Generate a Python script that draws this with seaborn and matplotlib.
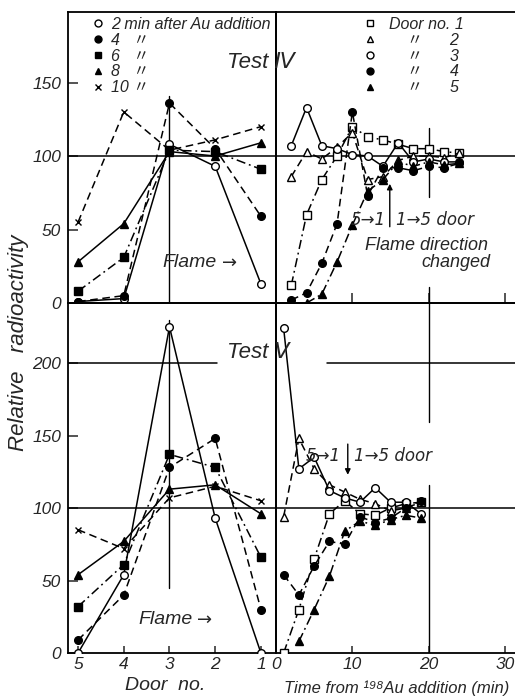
import numpy as np
import matplotlib
matplotlib.use("Agg")
import matplotlib.pyplot as plt
import seaborn as sns
from matplotlib.lines import Line2D

# ---------------- data ----------------
doors = [5, 4, 3, 2, 1]
door_ticks = [5, 4, 3, 2, 1]
time_ticks = [0, 10, 20, 30]
y_ticks_iv = [0, 50, 100, 150]
y_ticks_v = [0, 50, 100, 150, 200]

# Test IV, radioactivity along the doors at given minutes
iv_2min = [1, 3, 108, 93, 13]
iv_4min = [1, 5, 136, 105, 59]
iv_6min = [8, 31, 104, 103, 91]
iv_8min = [28, 54, 103, 100, 109]
iv_10min = [55, 130, 104, 111, 120]

# Test IV, radioactivity vs time at each door
times_iv = [2, 4, 6, 8, 10, 12, 14, 16, 18, 20, 22, 24]
iv_door1 = [12, 60, 84, 100, 120, 113, 111, 108, 105, 105, 103, 102]
iv_door2 = [86, 103, 98, 106, 116, 84, 86, 97, 100, 100, 99, 102]
iv_door3 = [107, 133, 107, 105, 101, 100, 93, 109, 96, 98, 96, 96]
iv_door4 = [2, 7, 27, 54, 130, 73, 92, 92, 90, 93, 92, 95]
iv_door5 = [np.nan, 0, 6, 28, 53, 76, 84, 96, 93, 96, 94, 95]

# Test V, along the doors
v_2min = [0, 54, 225, 93, 0]
v_4min = [9, 40, 128, 148, 30]
v_6min = [32, 61, 137, 128, 66]
v_8min = [54, 77, 113, 116, 96]
v_10min = [85, 72, 107, 115, 105]

# Test V, vs time
times_v = [1, 3, 5, 7, 9, 11, 13, 15, 17, 19]
v_door1 = [0, 30, 65, 96, 105, 96, 95, 100, 103, 104]
v_door2 = [94, 148, 127, 116, 111, 106, 103, 98, 100, 104]
v_door3 = [224, 127, 135, 112, 107, 104, 114, 104, 104, 96]
v_door4 = [54, 40, 60, 77, 75, 94, 90, 93, 100, 105]
v_door5 = [np.nan, 8, 30, 53, 84, 91, 88, 92, 95, 93]

legend_left = ["2 min after Au addition", "4   〃", "6   〃", "8   〃", "10 〃"]
legend_right = ["Door no. 1", "    〃      2", "    〃      3",
                "    〃      4", "    〃      5"]

# ---------------- style ----------------
sns.set_style("white")
FAM = ["Liberation Sans", "DejaVu Sans", "Noto Sans CJK JP"]
ARROW_FAM = ["DejaVu Sans", "Noto Sans CJK JP"]
plt.rcParams["font.family"] = FAM
plt.rcParams["font.style"] = "italic"

SOLID = "-"
DASH = (0, (5, 3))
DASHDOT = (0, (6, 2.5, 1.2, 2.5))

W, H = 515, 700
fig = plt.figure(figsize=(W / 100, H / 100), dpi=100)


def fx(x):
    return x / W


def fy(y):
    return 1 - y / H


ax_tl = fig.add_axes([fx(68), fy(303), (276 - 68) / W, (303 - 12) / H])
ax_tr = fig.add_axes([fx(276), fy(303), (515 - 276) / W, (303 - 12) / H])
ax_bl = fig.add_axes([fx(68), fy(653), (276 - 68) / W, (653 - 303) / H])
ax_br = fig.add_axes([fx(276), fy(653), (515 - 276) / W, (653 - 303) / H])

TOP_MAX = 198
BOT_MAX = 241.4
for ax in (ax_tl, ax_bl):
    ax.set_xlim(5.22, 0.67)
for ax in (ax_tr, ax_br):
    ax.set_xlim(0, 31.3)
for ax in (ax_tl, ax_tr):
    ax.set_ylim(0, TOP_MAX)
for ax in (ax_bl, ax_br):
    ax.set_ylim(0, BOT_MAX)

for ax in (ax_tl, ax_tr, ax_bl, ax_br):
    ax.set_facecolor("none")
    for s in ax.spines.values():
        s.set_color("black")
        s.set_linewidth(1.3)
    ax.axhline(100, color="black", lw=1.1, zorder=1)
for ax in (ax_tr, ax_br):
    ax.spines["right"].set_visible(False)

# reference lines
ax_tl.axvline(3, ymin=0, ymax=141 / TOP_MAX, color="black", lw=1.0, zorder=1)
ax_bl.axvline(3, ymin=45 / BOT_MAX, ymax=230 / BOT_MAX, color="black", lw=1.0, zorder=1)
ax_bl.axhline(200, xmin=0, xmax=(217 - 68) / 208, color="black", lw=1.1, zorder=1)
ax_br.axhline(200, xmin=(327 - 276) / 239, xmax=1, color="black", lw=1.1, zorder=1)
ax_tr.axvline(20, ymin=72 / TOP_MAX, ymax=119 / TOP_MAX, color="black", lw=1.0, zorder=1)
ax_tr.axvline(20, ymin=0, ymax=11 / TOP_MAX, color="black", lw=1.0, zorder=1)
ax_br.axvline(20, ymin=0, ymax=116 / BOT_MAX, color="black", lw=1.0, zorder=1)
ax_br.axvline(20, ymin=159 / BOT_MAX, ymax=1, color="black", lw=1.0, zorder=1)


def draw(ax, x, y, marker, filled, ls):
    sns.lineplot(x=x, y=y, ax=ax, color="black", marker=marker,
                 markersize=5.5 if marker != "x" else 5,
                 markerfacecolor="black" if filled else "white",
                 markeredgecolor="black", markeredgewidth=1.0,
                 linewidth=1.1, linestyle=ls, sort=False, estimator=None,
                 legend=False, zorder=3)


# styles by time (left panels)
time_styles = [("o", False, SOLID), ("o", True, DASH), ("s", True, DASHDOT),
               ("^", True, SOLID), ("x", True, DASH)]
# styles by door (right panels)
door_styles = [("s", False, DASHDOT), ("^", False, DASH), ("o", False, SOLID),
               ("o", True, DASH), ("^", True, DASHDOT)]

for vals, st in zip([iv_2min, iv_4min, iv_6min, iv_8min, iv_10min], time_styles):
    draw(ax_tl, doors, vals, *st)
for vals, st in zip([v_2min, v_4min, v_6min, v_8min, v_10min], time_styles):
    draw(ax_bl, doors, vals, *st)
for vals, st in zip([iv_door1, iv_door2, iv_door3, iv_door4, iv_door5], door_styles):
    draw(ax_tr, times_iv, vals, *st)
for vals, st in zip([v_door1, v_door2, v_door3, v_door4, v_door5], door_styles):
    draw(ax_br, times_v, vals, *st)

# ---------------- ticks ----------------
TFS = 12.5
ax_tl.set_yticks(y_ticks_iv)
ax_tl.set_yticklabels([str(v) for v in y_ticks_iv])
ax_bl.set_yticks(y_ticks_v)
ax_bl.set_yticklabels([str(v) for v in y_ticks_v])
ax_tl.set_xticks([])
ax_bl.set_xticks(door_ticks)
ax_bl.set_xticklabels([str(d) for d in door_ticks])
ax_tr.set_yticks([])
ax_br.set_yticks([])
ax_tr.set_xticks(time_ticks[1:])
ax_tr.set_xticklabels([])
ax_br.set_xticks(time_ticks)
ax_br.set_xticklabels([str(t) for t in time_ticks])
for ax in (ax_tl, ax_tr, ax_bl, ax_br):
    ax.tick_params(direction="in", length=7, width=1.1, labelsize=TFS, pad=5,
                   left=ax in (ax_tl, ax_bl), bottom=True)
    for lab in ax.get_xticklabels() + ax.get_yticklabels():
        lab.set_fontstyle("italic")
ax_bl.tick_params(axis="x", length=5, pad=3)
ax_br.tick_params(axis="x", length=5, pad=3)

# ---------------- legends ----------------
LFS = 11.5
h_left = [Line2D([], [], color="black", marker=m, linestyle="none", markersize=5,
                 markerfacecolor="black" if f else "white", markeredgecolor="black")
          for m, f, _ in time_styles]
ax_tl.legend(h_left, legend_left, loc="upper left", bbox_to_anchor=(0.085, 1.005),
             frameon=False, handlelength=0.7, handletextpad=0.5,
             labelspacing=0.05, borderaxespad=0, fontsize=LFS)

h_right = [Line2D([], [], color="black", marker=m, linestyle="none", markersize=5,
                  markerfacecolor="black" if f else "white", markeredgecolor="black")
           for m, f, _ in door_styles]
ax_tr.legend(h_right, legend_right, loc="upper left", bbox_to_anchor=(0.345, 1.005),
             frameon=False, handlelength=0.7, handletextpad=0.8,
             labelspacing=0.05, borderaxespad=0, fontsize=LFS)

# ---------------- texts ----------------
fig.text(fx(227), fy(62), "Test Ⅳ", fontsize=16, va="center", ha="left")
fig.text(fx(227), fy(352), "Test Ⅴ", fontsize=16, va="center", ha="left")
fig.text(fx(162), fy(263), "Flame", fontsize=14, va="center", ha="left")
fig.text(fx(222), fy(263), "→", fontsize=13, va="center", ha="left", family=ARROW_FAM)
fig.text(fx(138), fy(620), "Flame", fontsize=14, va="center", ha="left")
fig.text(fx(197), fy(620), "→", fontsize=13, va="center", ha="left", family=ARROW_FAM)

fig.text(fx(386), fy(220), "5→1", fontsize=12, va="center", ha="right", family=ARROW_FAM)
fig.text(fx(396), fy(220), "1→5 door", fontsize=12, va="center", ha="left", family=ARROW_FAM)
fig.text(fx(365), fy(245), "Flame direction", fontsize=13, va="center", ha="left")
fig.text(fx(490), fy(262), "changed", fontsize=13, va="center", ha="right")
ax_tr.annotate("", xy=(14.9, 83), xytext=(14.9, 50),
               arrowprops=dict(arrowstyle="-|>", color="black", lw=1.0,
                               mutation_scale=8))

fig.text(fx(341), fy(456), "5→1", fontsize=12, va="center", ha="right", family=ARROW_FAM)
fig.text(fx(354), fy(456), "1→5 door", fontsize=12, va="center", ha="left", family=ARROW_FAM)
ax_br.annotate("", xy=(9.4, 121), xytext=(9.4, 146),
               arrowprops=dict(arrowstyle="-|>", color="black", lw=1.0,
                               mutation_scale=8))

fig.text(fx(165), fy(685), "Door  no.", fontsize=14, va="center", ha="center")
fig.text(fx(284), fy(688), "Time from ¹⁹⁸Au addition (min)", fontsize=12,
         va="center", ha="left")
fig.text(fx(19), fy(343), "Relative   radioactivity", fontsize=16, rotation=90,
         va="center", ha="center")

fig.savefig("out.png", dpi=100)
